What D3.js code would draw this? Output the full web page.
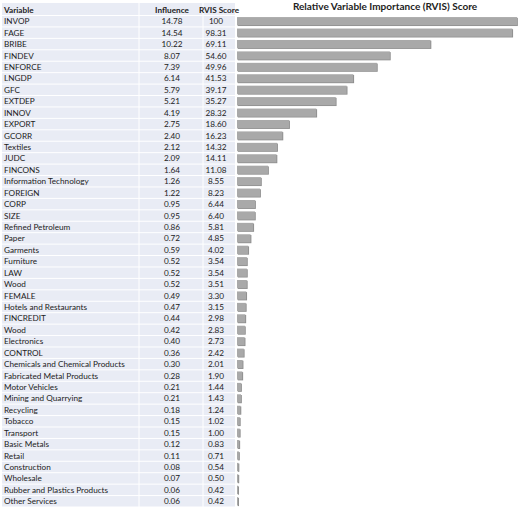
<!DOCTYPE html><html><head><meta charset="utf-8"><script src="https://cdn.jsdelivr.net/npm/d3@7"></script>
<style>body{margin:0;background:#fff}</style></head><body><svg id="c" width="520" height="507"></svg><script>
const variables=["INVOP","FAGE","BRIBE","FINDEV","ENFORCE","LNGDP","GFC","EXTDEP","INNOV","EXPORT","GCORR","Textiles","JUDC","FINCONS","Information Technology","FOREIGN","CORP","SIZE","Refined Petroleum","Paper","Garments","Furniture","LAW","Wood","FEMALE","Hotels and Restaurants","FINCREDIT","Wood","Electronics","CONTROL","Chemicals and Chemical Products","Fabricated Metal Products","Motor Vehicles","Mining and Quarrying","Recycling","Tobacco","Transport","Basic Metals","Retail","Construction","Wholesale","Rubber and Plastics Products","Other Services"];
const influence=["14.78","14.54","10.22","8.07","7.39","6.14","5.79","5.21","4.19","2.75","2.40","2.12","2.09","1.64","1.26","1.22","0.95","0.95","0.86","0.72","0.59","0.52","0.52","0.52","0.49","0.47","0.44","0.42","0.40","0.36","0.30","0.28","0.21","0.21","0.18","0.15","0.15","0.12","0.11","0.08","0.07","0.06","0.06"];
const rvis=["100","98.31","69.11","54.60","49.96","41.53","39.17","35.27","28.32","18.60","16.23","14.32","14.11","11.08","8.55","8.23","6.44","6.40","5.81","4.85","4.02","3.54","3.54","3.51","3.30","3.15","2.98","2.83","2.73","2.42","2.01","1.90","1.44","1.43","1.24","1.02","1.00","0.83","0.71","0.54","0.50","0.42","0.42"];
const headers=["Variable","Influence","RVIS Score"];
const title="Relative Variable Importance (RVIS) Score";
const svg=d3.select("#c");
const font="Lato, 'Open Sans', sans-serif";
const idx=d3.range(variables.length);
const y=d3.scaleBand().domain(idx).range([15.5,507]).paddingInner(0);
const x=d3.scaleLinear().domain([0,100]).range([237,517]);
const bw=y.bandwidth();
svg.append("rect").attr("x",2).attr("y",3).attr("width",233).attr("height",12).attr("fill","#e9ecf5");
svg.selectAll("rect.row").data(idx).join("rect").attr("x",2).attr("y",i=>y(i)+0.5).attr("width",233).attr("height",bw-1).attr("fill","#e9ecf5");
svg.selectAll("line.sep").data([139,203]).join("line").attr("x1",d=>d).attr("x2",d=>d).attr("y1",3).attr("y2",507).attr("stroke","#fff").attr("stroke-width",1);
const hx=[4,172,219],anchors=["start","middle","middle"];
headers.forEach((h,k)=>svg.append("text").attr("x",hx[k]).attr("y",12.5).attr("text-anchor",anchors[k]).attr("font-family",font).attr("font-size",8.2).attr("font-weight","bold").attr("fill","#222").text(h));
const g=svg.selectAll("g.r").data(idx).join("g").attr("transform",i=>`translate(0,${y(i)+bw/2+3})`);
g.append("text").attr("x",4).attr("font-family",font).attr("font-size",8.2).attr("fill","#222").text(i=>variables[i]);
g.append("text").attr("x",172).attr("text-anchor","middle").attr("font-family",font).attr("font-size",8.2).attr("fill","#222").text(i=>influence[i]);
g.append("text").attr("x",216).attr("text-anchor","middle").attr("font-family",font).attr("font-size",8.2).attr("fill","#222").text(i=>rvis[i]);
svg.selectAll("rect.sh").data(idx).join("rect").attr("x",x(0)+0.8).attr("y",i=>y(i)+2.3).attr("width",i=>Math.max(0.5,x(+rvis[i])-x(0))).attr("height",bw-3.2).attr("fill","#8a8a8a");
svg.selectAll("rect.bar").data(idx).join("rect").attr("x",x(0)).attr("y",i=>y(i)+1.6).attr("width",i=>Math.max(0.5,x(+rvis[i])-x(0))).attr("height",bw-3.2).attr("fill","#a9a9a9");
svg.append("text").attr("x",385).attr("y",10).attr("text-anchor","middle").attr("font-family",font).attr("font-size",10).attr("font-weight","bold").attr("fill","#222").text(title);
</script></body></html>
